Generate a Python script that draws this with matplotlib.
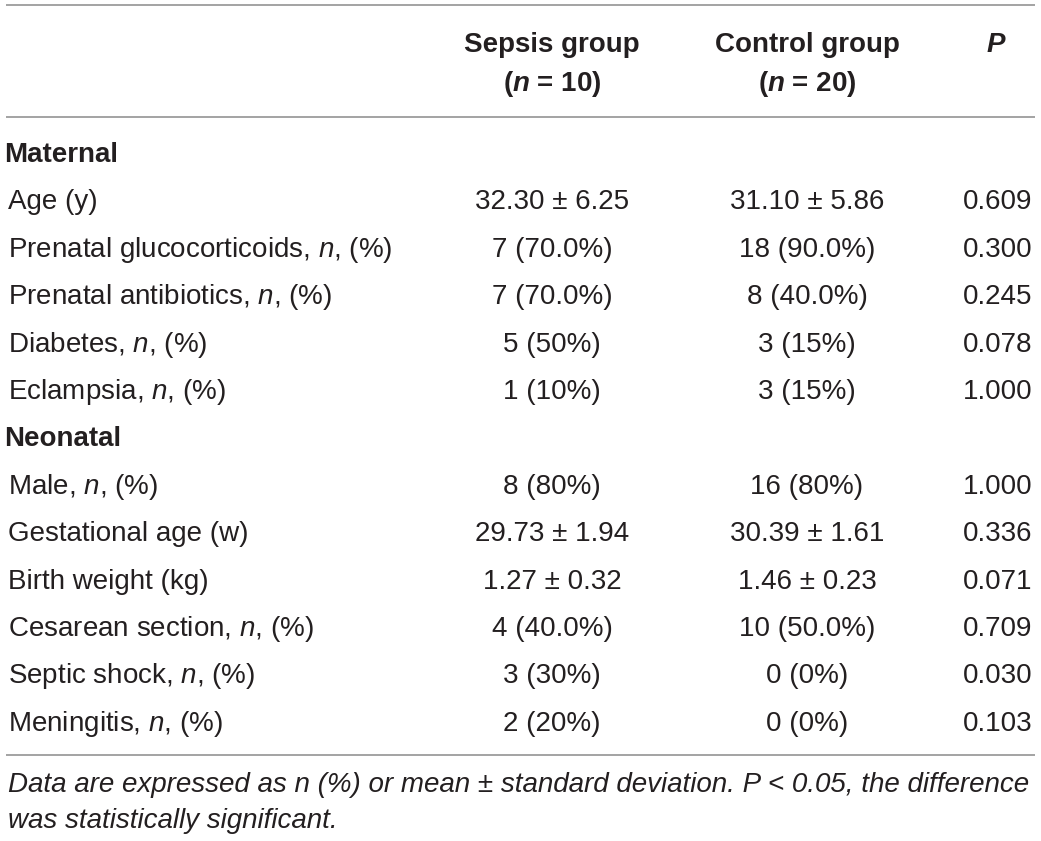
import matplotlib
matplotlib.use('Agg')
import matplotlib.pyplot as plt

plt.rcParams['font.family'] = ['Liberation Sans', 'DejaVu Sans']
plt.rcParams['mathtext.fontset'] = 'custom'
plt.rcParams['mathtext.it'] = 'Liberation Sans:italic'
plt.rcParams['mathtext.rm'] = 'Liberation Sans'
plt.rcParams['mathtext.bf'] = 'Liberation Sans:italic:bold'

# Table content
col_headers = ["Sepsis group", "Control group"]
col_counts = ["($\\mathbf{n}$ = 10)", "($\\mathbf{n}$ = 20)"]
p_header = "$\\mathbf{P}$"

sections = ["Maternal", "Neonatal"]
maternal_rows = ["Age (y)",
                 "Prenatal glucocorticoids, $\\mathit{n}$, (%)",
                 "Prenatal antibiotics, $\\mathit{n}$, (%)",
                 "Diabetes, $\\mathit{n}$, (%)",
                 "Eclampsia, $\\mathit{n}$, (%)"]
maternal_sepsis = ["32.30 ± 6.25", "7 (70.0%)", "7 (70.0%)", "5 (50%)", "1 (10%)"]
maternal_control = ["31.10 ± 5.86", "18 (90.0%)", "8 (40.0%)", "3 (15%)", "3 (15%)"]
maternal_p = ["0.609", "0.300", "0.245", "0.078", "1.000"]

neonatal_rows = ["Male, $\\mathit{n}$, (%)",
                 "Gestational age (w)",
                 "Birth weight (kg)",
                 "Cesarean section, $\\mathit{n}$, (%)",
                 "Septic shock, $\\mathit{n}$, (%)",
                 "Meningitis, $\\mathit{n}$, (%)"]
neonatal_sepsis = ["8 (80%)", "29.73 ± 1.94", "1.27 ± 0.32", "4 (40.0%)", "3 (30%)", "2 (20%)"]
neonatal_control = ["16 (80%)", "30.39 ± 1.61", "1.46 ± 0.23", "10 (50.0%)", "0 (0%)", "0 (0%)"]
neonatal_p = ["1.000", "0.336", "0.071", "0.709", "0.030", "0.103"]

footnote = ["Data are expressed as n (%) or mean ± standard deviation. P < 0.05, the difference",
            "was statistically significant."]

# Layout (pixel coords, y downwards)
W, H = 1041, 841
txt_color = '#231f20'
line_color = '#8a8a8a'
fs = 20
x_label, x_section = 8, 4
x_sepsis, x_control, x_p = 552, 807, 998
row_y0, row_dy = 162, 47.4

fig = plt.figure(figsize=(W / 100, H / 100), dpi=100)
ax = fig.add_axes([0, 0, 1, 1])
ax.set_xlim(0, W)
ax.set_ylim(H, 0)
ax.axis('off')

for y in [5, 117, 755]:
    ax.plot([6, 1035], [y, y], color=line_color, linewidth=1.1, solid_capstyle='butt')

# header
for xc, head, cnt in zip([x_sepsis, x_control], col_headers, col_counts):
    ax.text(xc, 52, head, ha='center', va='baseline', fontsize=fs, fontweight='bold', color=txt_color)
    ax.text(xc, 91, cnt, ha='center', va='baseline', fontsize=fs, fontweight='bold', color=txt_color)
ax.text(996, 52, p_header, ha='center', va='baseline', fontsize=fs, fontweight='bold', color=txt_color)

# body
row = 0
blocks = [(sections[0], maternal_rows, maternal_sepsis, maternal_control, maternal_p),
          (sections[1], neonatal_rows, neonatal_sepsis, neonatal_control, neonatal_p)]
for sec, labels, sep, ctl, pv in blocks:
    y = row_y0 + row * row_dy
    ax.text(x_section, y, sec, ha='left', va='baseline', fontsize=fs, fontweight='bold', color=txt_color)
    row += 1
    for lab, s, c, p in zip(labels, sep, ctl, pv):
        y = row_y0 + row * row_dy
        ax.text(x_label, y, lab, ha='left', va='baseline', fontsize=fs, color=txt_color)
        ax.text(x_sepsis, y, s, ha='center', va='baseline', fontsize=fs, color=txt_color)
        ax.text(x_control, y, c, ha='center', va='baseline', fontsize=fs, color=txt_color)
        ax.text(x_p, y, p, ha='center', va='baseline', fontsize=fs, color=txt_color)
        row += 1

# footnote
for yy, line in zip([792, 828], footnote):
    ax.text(x_label, yy, line, ha='left', va='baseline', fontsize=20, fontstyle='italic', color=txt_color)

fig.savefig('out.png', dpi=100, facecolor='white')
